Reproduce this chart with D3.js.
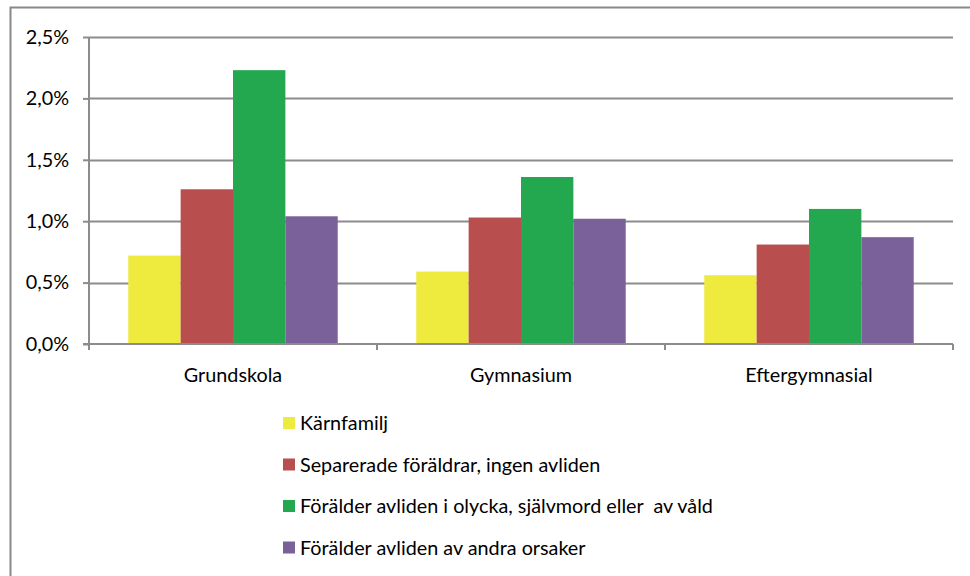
<!DOCTYPE html>
<html>
<head>
<meta charset="utf-8">
<script src="https://cdn.jsdelivr.net/npm/d3@7"></script>
<style>
  body { margin: 0; background: #fff; overflow: hidden; }
  svg { display: block; }
  svg text { font-family: Lato, "Open Sans", sans-serif; fill: #000; }
</style>
</head>
<body>
<div class="board"></div>
<script>
// data (percent)
var categories = ["Grundskola", "Gymnasium", "Eftergymnasial"];
var seriesNames = [
  "Kärnfamilj",
  "Separerade föräldrar, ingen avliden",
  "Förälder avliden i olycka, självmord eller  av våld",
  "Förälder avliden av andra orsaker"
];
var karnfamilj  = [0.72, 0.59, 0.56];
var separerade  = [1.26, 1.03, 0.81];
var olycka      = [2.23, 1.36, 1.10];
var andraOrsak  = [1.04, 1.02, 0.87];
var yTicks = [0, 0.5, 1.0, 1.5, 2.0, 2.5];

var seriesValues = [karnfamilj, separerade, olycka, andraOrsak];
var colors = ["#eeea3e", "#b84f4e", "#23a850", "#7b6199"];

var width = 970, height = 576;
var fontSize = 19.8;
var svg = d3.select(".board").append("svg")
            .attr("width", width)
            .attr("height", height);

// outer frame (only left and top edges fall inside the picture)
svg.append("rect")
   .attr("x", 10.5).attr("y", 7.5)
   .attr("width", 1000).attr("height", 600)
   .attr("fill", "none")
   .attr("stroke", "#888").attr("stroke-width", 2);

var plotLeft = 89, plotRight = 953, plotTop = 37, plotBottom = 344;

var x0 = d3.scaleBand().domain(categories).range([plotLeft, plotRight]);
var groupPad = x0.bandwidth() * 1.5 / 5.5 / 2;
var x1 = d3.scaleBand().domain(d3.range(seriesNames.length))
           .range([groupPad, x0.bandwidth() - groupPad]);
var y = d3.scaleLinear().domain([0, 2.5]).range([plotBottom, plotTop]);

// gridlines
svg.append("g").selectAll("line")
   .data(yTicks.filter(function(d) { return d > 0; }))
   .enter().append("line")
   .attr("x1", plotLeft).attr("x2", plotRight)
   .attr("y1", function(d) { return Math.round(y(d)) + 0.5; })
   .attr("y2", function(d) { return Math.round(y(d)) + 0.5; })
   .attr("stroke", "#8c8c8c").attr("stroke-width", 2);

// bars
var groups = svg.append("g").selectAll("g")
   .data(categories).enter().append("g")
   .attr("transform", function(d) { return "translate(" + x0(d) + ",0)"; });

groups.selectAll("rect")
   .data(function(d, i) { return seriesValues.map(function(s, k) { return {k: k, v: s[i]}; }); })
   .enter().append("rect")
   .attr("x", function(d) { return x1(d.k); })
   .attr("width", x1.bandwidth())
   .attr("y", function(d) { return y(d.v); })
   .attr("height", function(d) { return plotBottom - y(d.v); })
   .attr("fill", function(d) { return colors[d.k]; });

// y axis
var yAxis = d3.axisLeft(y).tickValues(yTicks).tickSize(6).tickPadding(14)
              .tickFormat(function(d) { return d3.format(".1f")(d).replace(".", ",") + "%"; });
var gy = svg.append("g").attr("transform", "translate(" + plotLeft + ",0)").call(yAxis);
gy.selectAll("path, line").attr("stroke", "#8c8c8c").attr("stroke-width", 2);
gy.select(".domain").attr("d", "M0," + plotTop + "V" + plotBottom);
gy.selectAll("text").attr("font-size", fontSize).attr("font-family", "Lato").attr("fill", "#000");

// x axis
var gx = svg.append("g").attr("transform", "translate(0," + plotBottom + ")");
gx.append("line").attr("x1", plotLeft - 6).attr("x2", plotRight)
  .attr("stroke", "#8c8c8c").attr("stroke-width", 2);
gx.selectAll(".tk").data(d3.range(categories.length + 1)).enter().append("line")
  .attr("x1", function(i) { return plotLeft + i * x0.step(); })
  .attr("x2", function(i) { return plotLeft + i * x0.step(); })
  .attr("y1", 0).attr("y2", 6)
  .attr("stroke", "#8c8c8c").attr("stroke-width", 2);
gx.selectAll("text").data(categories).enter().append("text")
  .attr("x", function(d) { return x0(d) + x0.bandwidth() / 2; })
  .attr("y", 38)
  .attr("text-anchor", "middle")
  .attr("font-size", fontSize)
  .text(function(d) { return d; });

// legend
var legend = svg.append("g").selectAll("g")
  .data(seriesNames).enter().append("g")
  .attr("transform", function(d, i) { return "translate(283," + (423 + i * 41.5) + ")"; });
legend.append("rect").attr("x", 0).attr("y", -6).attr("width", 12).attr("height", 12)
  .attr("fill", function(d, i) { return colors[i]; });
legend.append("text").attr("x", 17).attr("y", 7)
  .attr("font-size", fontSize)
  .attr("xml:space", "preserve")
  .style("white-space", "pre")
  .text(function(d) { return d; });
</script>
</body>
</html>
